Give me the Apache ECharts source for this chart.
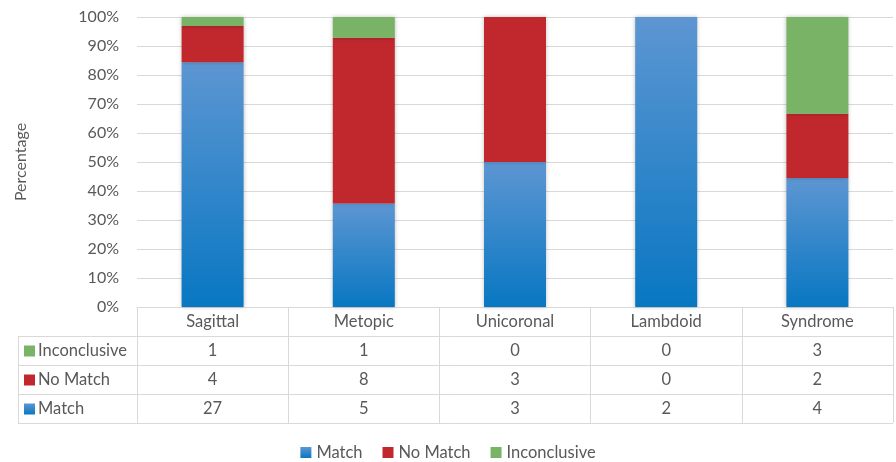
<!DOCTYPE html>
<html><head><meta charset="utf-8">
<script src="https://cdn.jsdelivr.net/npm/echarts@6/dist/echarts.min.js"></script>
<style>html,body{margin:0;padding:0;background:#fff}#c{width:896px;height:462px}</style>
</head><body><div id="c"></div>
<script>
const categories = ['Sagittal', 'Metopic', 'Unicoronal', 'Lambdoid', 'Syndrome'];
const matchCounts = [27, 5, 3, 2, 4];
const noMatchCounts = [4, 8, 3, 0, 2];
const inconclusiveCounts = [1, 1, 0, 0, 3];
const yTicks = [0, 10, 20, 30, 40, 50, 60, 70, 80, 90, 100];

const totals = categories.map((c, i) => matchCounts[i] + noMatchCounts[i] + inconclusiveCounts[i]);
const pct = arr => arr.map((v, i) => v / totals[i] * 100);

const FONT = 'Lato';
const FS = 16.5;
const TXT = '#595959';
const LINE = '#d9d9d9';
const blueGrad = new echarts.graphic.LinearGradient(0, 0, 0, 1, [
  { offset: 0, color: '#5d96d2' }, { offset: 1, color: '#0877c2' }]);
const RED = '#c0282e', GREEN = '#79b366';

const chart = echarts.init(document.getElementById('c'));
const G = { left: 137, right: 3, top: 17, bottom: 155 };
const rowH = 29;
const tableTop = 462 - G.bottom;

function rowAxis(values, k) {
  return {
    type: 'category', data: categories, position: 'bottom', offset: rowH * k,
    axisLine: { show: false }, axisTick: { show: false },
    axisLabel: { margin: 0, lineHeight: rowH, fontFamily: FONT, fontSize: FS, color: TXT,
      formatter: (v, i) => String(values[i]) }
  };
}

const rowLabels = [
  { name: 'Inconclusive', color: GREEN },
  { name: 'No Match', color: RED },
  { name: 'Match', color: blueGrad }
];
const graphics = [];
for (let k = 1; k <= 4; k++) {
  graphics.push({ type: 'line', shape: { x1: 18, y1: tableTop + rowH * k + 0.5, x2: 893, y2: tableTop + rowH * k + 0.5 },
    style: { stroke: LINE, lineWidth: 1 }, silent: true });
}
graphics.push({ type: 'line', shape: { x1: 18.5, y1: tableTop + rowH, x2: 18.5, y2: tableTop + rowH * 4 },
  style: { stroke: LINE, lineWidth: 1 }, silent: true });
rowLabels.forEach((r, j) => {
  const cy = tableTop + rowH * (j + 1) + rowH / 2;
  graphics.push({ type: 'rect', shape: { x: 24, y: cy - 5, width: 11, height: 11 }, style: { fill: r.color }, silent: true });
  graphics.push({ type: 'text', x: 38, y: cy, style: { text: r.name, fontFamily: FONT, fontSize: FS, fill: TXT,
    verticalAlign: 'middle', align: 'left' }, silent: true });
});

chart.setOption({
  animation: false,
  textStyle: { fontFamily: FONT },
  grid: G,
  legend: {
    top: 439, left: 'center', itemWidth: 11, itemHeight: 11, itemGap: 20, icon: 'rect',
    textStyle: { fontFamily: FONT, fontSize: FS, color: TXT },
    data: ['Match', 'No Match', 'Inconclusive']
  },
  xAxis: [
    {
      type: 'category', data: categories, position: 'bottom',
      axisLine: { show: true, lineStyle: { color: LINE } },
      axisTick: { show: true, length: rowH * 4, lineStyle: { color: LINE } },
      axisLabel: { margin: 0, lineHeight: rowH, fontFamily: FONT, fontSize: FS, color: TXT }
    },
    rowAxis(inconclusiveCounts, 1),
    rowAxis(noMatchCounts, 2),
    rowAxis(matchCounts, 3)
  ],
  yAxis: {
    type: 'value', min: yTicks[0], max: yTicks[yTicks.length - 1], interval: 10,
    name: 'Percentage', nameLocation: 'middle', nameGap: 108, nameRotate: 90,
    nameTextStyle: { fontFamily: FONT, fontSize: 16, color: TXT },
    axisLine: { show: false }, axisTick: { show: false },
    axisLabel: { margin: 18, fontFamily: FONT, fontSize: 16, color: TXT, formatter: v => v + '%' },
    splitLine: { lineStyle: { color: LINE } }
  },
  series: [
    { name: 'Match', type: 'bar', stack: 's', barWidth: '41%', data: pct(matchCounts),
      itemStyle: { color: blueGrad, shadowBlur: 4, shadowColor: 'rgba(0,0,0,0.25)' } },
    { name: 'No Match', type: 'bar', stack: 's', data: pct(noMatchCounts),
      itemStyle: { color: RED, shadowBlur: 4, shadowColor: 'rgba(0,0,0,0.25)' } },
    { name: 'Inconclusive', type: 'bar', stack: 's', data: pct(inconclusiveCounts),
      itemStyle: { color: GREEN, shadowBlur: 4, shadowColor: 'rgba(0,0,0,0.25)' } }
  ],
  graphic: graphics
});
</script></body></html>
